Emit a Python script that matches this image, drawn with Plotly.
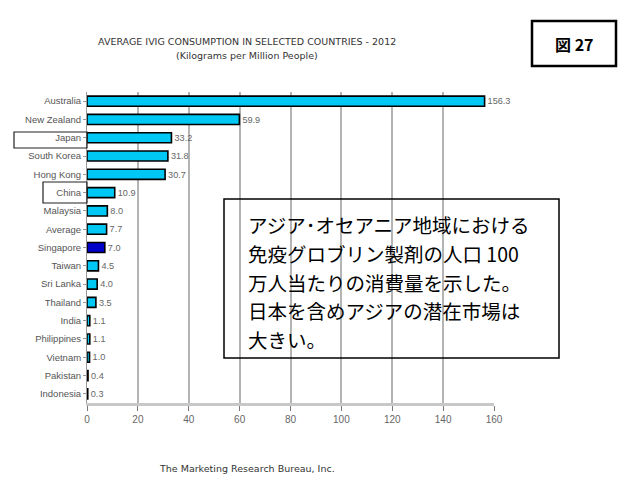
import plotly.graph_objects as go

# IVIG consumption, kilograms per million people (2012)
countries = ["Australia", "New Zealand", "Japan", "South Korea", "Hong Kong", "China",
             "Malaysia", "Average", "Singapore", "Taiwan", "Sri Lanka", "Thailand",
             "India", "Philippines", "Vietnam", "Pakistan", "Indonesia"]
consumption = [156.3, 59.9, 33.2, 31.8, 30.7, 10.9, 8.0, 7.7, 7.0, 4.5, 4.0, 3.5,
               1.1, 1.1, 1.0, 0.4, 0.3]
tick_values = [0, 20, 40, 60, 80, 100, 120, 140, 160]

bar_colors = ["#0000c8" if c == "Singapore" else "#00c8f4" for c in countries]

W, H = 621, 487
ML, MR, MT, MB = 87, 127, 92, 84
PW, PH = W - ML - MR, H - MT - MB


def px_x(v):
    return (v - ML) / PW


def px_y(v):
    return (H - v - MB) / PH


fig = go.Figure(go.Bar(
    x=consumption,
    y=countries,
    orientation="h",
    marker=dict(color=bar_colors, line=dict(color="#000000", width=1.6)),
    text=[f"{v:.1f}" for v in consumption],
    textposition="outside",
    textfont=dict(family="Liberation Sans", size=10, color="#666666"),
    cliponaxis=False,
    width=0.55,
))

fig.update_layout(
    width=W, height=H,
    margin=dict(l=ML, r=MR, t=MT, b=MB),
    paper_bgcolor="white", plot_bgcolor="white",
    showlegend=False,
    font=dict(family="Liberation Sans", size=9, color="#555555"),
    xaxis=dict(
        range=[0, 160], tickvals=tick_values, showgrid=True,
        gridcolor="#b4b4b4", gridwidth=1.5,
        showline=True, linecolor="#c8c8c8", linewidth=3,
        ticks="outside", ticklen=5, tickcolor="#777777",
        tickfont=dict(size=10, color="#666666"), zeroline=False,
    ),
    yaxis=dict(
        autorange="reversed", showline=True, linecolor="#999999", linewidth=1,
        ticks="outside", ticklen=3, tickcolor="#999999",
        tickfont=dict(size=9.5, color="#555555"),
    ),
)


def label(x, y, text, **kw):
    fig.add_annotation(x=px_x(x), y=px_y(y), xref="paper", yref="paper",
                       showarrow=False, xanchor=kw.pop("xanchor", "center"),
                       yanchor=kw.pop("yanchor", "middle"), text=text, **kw)


# chart heading and source line
heading_font = dict(family="DejaVu Sans", size=9.5, color="#333333")
label(247, 41, "AVERAGE IVIG CONSUMPTION IN SELECTED COUNTRIES - 2012", font=heading_font)
label(247, 55, "(Kilograms per Million People)", font=heading_font)
label(247, 468, "The Marketing Research Bureau, Inc.", font=heading_font)

# figure number box
fig.add_shape(type="rect", xref="paper", yref="paper",
              x0=px_x(532), x1=px_x(616), y0=px_y(66), y1=px_y(21),
              line=dict(color="black", width=2.5))
label(574, 44, "<b>図 27</b>", font=dict(family="Noto Sans CJK JP", size=16, color="black"))

# highlight boxes around Japan and China labels
fig.add_shape(type="rect", xref="paper", yref="paper",
              x0=px_x(14), x1=px_x(87), y0=px_y(148), y1=px_y(132),
              line=dict(color="#222222", width=1.2))
fig.add_shape(type="rect", xref="paper", yref="paper",
              x0=px_x(43), x1=px_x(87), y0=px_y(203), y1=px_y(182),
              line=dict(color="#222222", width=1.2))

# commentary box
fig.add_shape(type="rect", xref="paper", yref="paper",
              x0=px_x(224), x1=px_x(559), y0=px_y(358), y1=px_y(199),
              line=dict(color="black", width=1.5))
note_lines = ["アジア･オセアニア地域における",
              "免疫グロブリン製剤の人口 100",
              "万人当たりの消費量を示した。",
              "日本を含めアジアの潜在市場は",
              "大きい。"]
for i, line in enumerate(note_lines):
    label(246, 225 + i * 28.6, line, xanchor="left",
          font=dict(family="Noto Sans CJK JP", size=19.5, color="black"))

fig.write_html("out.html")
